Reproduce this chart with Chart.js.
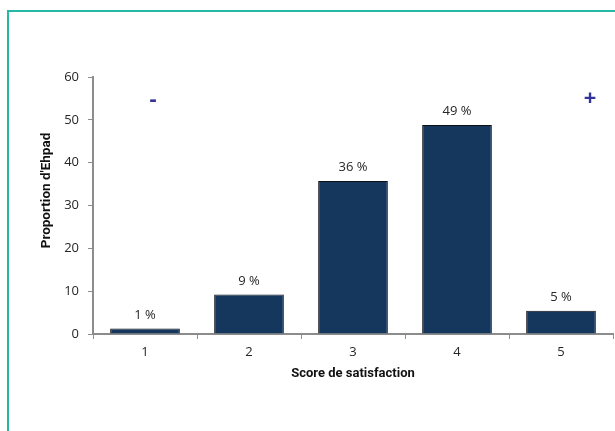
<!DOCTYPE html>
<html>
<head>
<meta charset="utf-8">
<script src="https://cdn.jsdelivr.net/npm/chart.js@4"></script>
<style>
    html, body { margin: 0; padding: 0; background: #fff; }
    #wrap { position: relative; width: 615px; height: 431px; overflow: hidden; }
    #frame { position: absolute; left: 7px; top: 10px; right: -5px; bottom: -5px;
             border-left: 2px solid #26b8a4; border-top: 2px solid #26b8a4; }
    #chart { position: absolute; left: 0; top: 0; }
</style>
</head>
<body>
<div id="wrap">
    <div id="frame"></div>
    <canvas id="chart" width="615" height="431"></canvas>
</div>
<script>
// Score de satisfaction des Ehpad
const scores = ['1', '2', '3', '4', '5'];
const proportions = [1.3, 9.2, 35.7, 48.8, 5.4];
const barLabels = ['1 %', '9 %', '36 %', '49 %', '5 %'];
const yTicks = [0, 10, 20, 30, 40, 50, 60];

const textColor = '#262626';
const axisColor = '#8c8c8c';
const font = { family: "'Open Sans', 'Noto Sans', sans-serif", size: 13 };
const titleFamily = "'Liberation Sans Narrow', Roboto, sans-serif";

// labels above bars, y title, and the - / + markers
const labelPlugin = {
    id: 'barLabels',
    afterDatasetsDraw(chart) {
        const ctx = chart.ctx;
        const meta = chart.getDatasetMeta(0);
        ctx.save();
        ctx.font = "13px 'Open Sans', 'Noto Sans', sans-serif";
        ctx.fillStyle = textColor;
        ctx.textAlign = 'center';
        ctx.textBaseline = 'bottom';
        meta.data.forEach((bar, i) => {
            ctx.fillText(barLabels[i], bar.x, bar.y - 7);
        });

        const x = chart.scales.x, y = chart.scales.y;

        // y axis title, sits a bit above the middle like the original
        ctx.save();
        ctx.translate(47, y.getPixelForValue(33.5));
        ctx.rotate(-Math.PI / 2);
        ctx.font = 'bold 13.5px ' + titleFamily;
        ctx.fillStyle = '#111';
        ctx.textBaseline = 'middle';
        ctx.fillText("Proportion d'Ehpad", 0, 0);
        ctx.restore();

        ctx.font = "bold 22px 'Open Sans', sans-serif";
        ctx.fillStyle = '#333399';
        ctx.textBaseline = 'middle';
        ctx.fillText('-', x.getPixelForValue(0) + 8, y.getPixelForValue(54.6));
        ctx.fillText('+', x.getPixelForValue(4) + 29, y.getPixelForValue(54.9));
        ctx.restore();
    }
};

new Chart(document.getElementById('chart'), {
    type: 'bar',
    data: {
        labels: scores,
        datasets: [{
            data: proportions,
            backgroundColor: '#15375d',
            borderColor: '#0b0f14',
            borderWidth: 1,
            categoryPercentage: 1,
            barPercentage: 0.67
        }]
    },
    options: {
        responsive: false,
        animation: false,
        layout: { padding: { top: 77, right: 2, left: 0, bottom: 0 } },
        plugins: { legend: { display: false }, tooltip: { enabled: false } },
        scales: {
            x: {
                afterFit: s => { s.height = 97; },
                grid: { offset: true, drawOnChartArea: false, color: axisColor, tickLength: 5, tickWidth: 1 },
                border: { color: axisColor, width: 2 },
                ticks: { color: textColor, font: font, padding: 5 },
                title: {
                    display: true,
                    text: 'Score de satisfaction',
                    color: '#111',
                    font: { family: titleFamily, size: 13, weight: 'bold' },
                    padding: { top: 0, bottom: 49 }
                }
            },
            y: {
                min: 0,
                max: 60,
                afterFit: s => { s.width = 93; },
                afterBuildTicks: s => { s.ticks = yTicks.map(v => ({ value: v })); },
                grid: { drawOnChartArea: false, color: axisColor, tickLength: 5 },
                border: { color: axisColor, width: 2 },
                ticks: { color: textColor, font: font, padding: 9 }
            }
        }
    },
    plugins: [labelPlugin]
});
</script>
</body>
</html>
